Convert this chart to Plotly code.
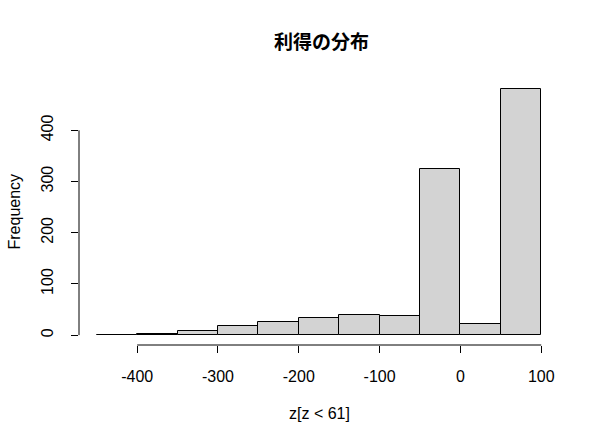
import plotly.graph_objects as go

bin_edges = [-450, -400, -350, -300, -250, -200, -150, -100, -50, 0, 50, 100]
counts = [1, 3, 9, 17, 25, 33, 40, 37, 325, 21, 481]
x_ticks = [-400, -300, -200, -100, 0, 100]
y_ticks = [0, 100, 200, 300, 400]
title_text = "利得の分布"
x_label = "z[z < 61]"
y_label = "Frequency"

centers = [(a + b) / 2 for a, b in zip(bin_edges[:-1], bin_edges[1:])]
widths = [b - a for a, b in zip(bin_edges[:-1], bin_edges[1:])]

xspan = bin_edges[-1] - bin_edges[0]
xr = [bin_edges[0] - 0.04 * xspan, bin_edges[-1] + 0.04 * xspan]
ymax = max(counts)
yr = [-0.04 * ymax, ymax * 1.04]

fig = go.Figure(go.Bar(
    x=centers, y=counts, width=widths,
    marker=dict(color="#D3D3D3", line=dict(color="black", width=1)),
    hoverinfo="skip",
))

font = dict(family="Liberation Sans, Arial, sans-serif", size=16, color="black")

fig.update_layout(
    width=600, height=443,
    margin=dict(l=79, r=41, t=79, b=98, autoexpand=False),
    plot_bgcolor="white", paper_bgcolor="white",
    showlegend=False,
    font=font,
    xaxis=dict(range=xr, tickvals=x_ticks, ticktext=[str(v) for v in x_ticks],
               ticks="outside", ticklen=7, tickcolor="black", tickwidth=1,
               showgrid=False, zeroline=False, showline=False, automargin=False,
               ticklabelstandoff=10, fixedrange=True),
    yaxis=dict(range=yr, tickvals=y_ticks, ticktext=[str(v) for v in y_ticks],
               ticks="outside", ticklen=7, tickcolor="black", tickwidth=1,
               tickangle=-90, automargin=False,
               showgrid=False, zeroline=False, showline=False,
               ticklabelstandoff=12, fixedrange=True),
    bargap=0,
)

# axis lines spanning first to last tick (R style)
fig.add_shape(type="line", xref="x", yref="paper", x0=x_ticks[0], x1=x_ticks[-1],
              y0=0, y1=0, line=dict(color="black", width=1))
fig.add_shape(type="line", xref="paper", yref="y", x0=0, x1=0,
              y0=y_ticks[0], y1=y_ticks[-1], line=dict(color="black", width=1))

fig.add_annotation(text="<b>" + title_text + "</b>", xref="paper", yref="paper",
                   x=0.5, y=1, xanchor="center", yanchor="middle",
                   xshift=2, yshift=39, showarrow=False,
                   font=dict(family="Noto Sans CJK JP", size=19, color="black"))
fig.add_annotation(text=x_label, xref="paper", yref="paper", x=0.5, y=0,
                   xanchor="center", yanchor="middle",
                   yshift=-68, showarrow=False, font=font)
fig.add_annotation(text=y_label, xref="paper", yref="paper", x=0, y=0.5,
                   xanchor="center", yanchor="middle",
                   xshift=-65.5, textangle=-90, showarrow=False, font=font)

fig.write_html("out.html", config={"displayModeBar": False},
               post_script="document.body.style.margin='0';")
